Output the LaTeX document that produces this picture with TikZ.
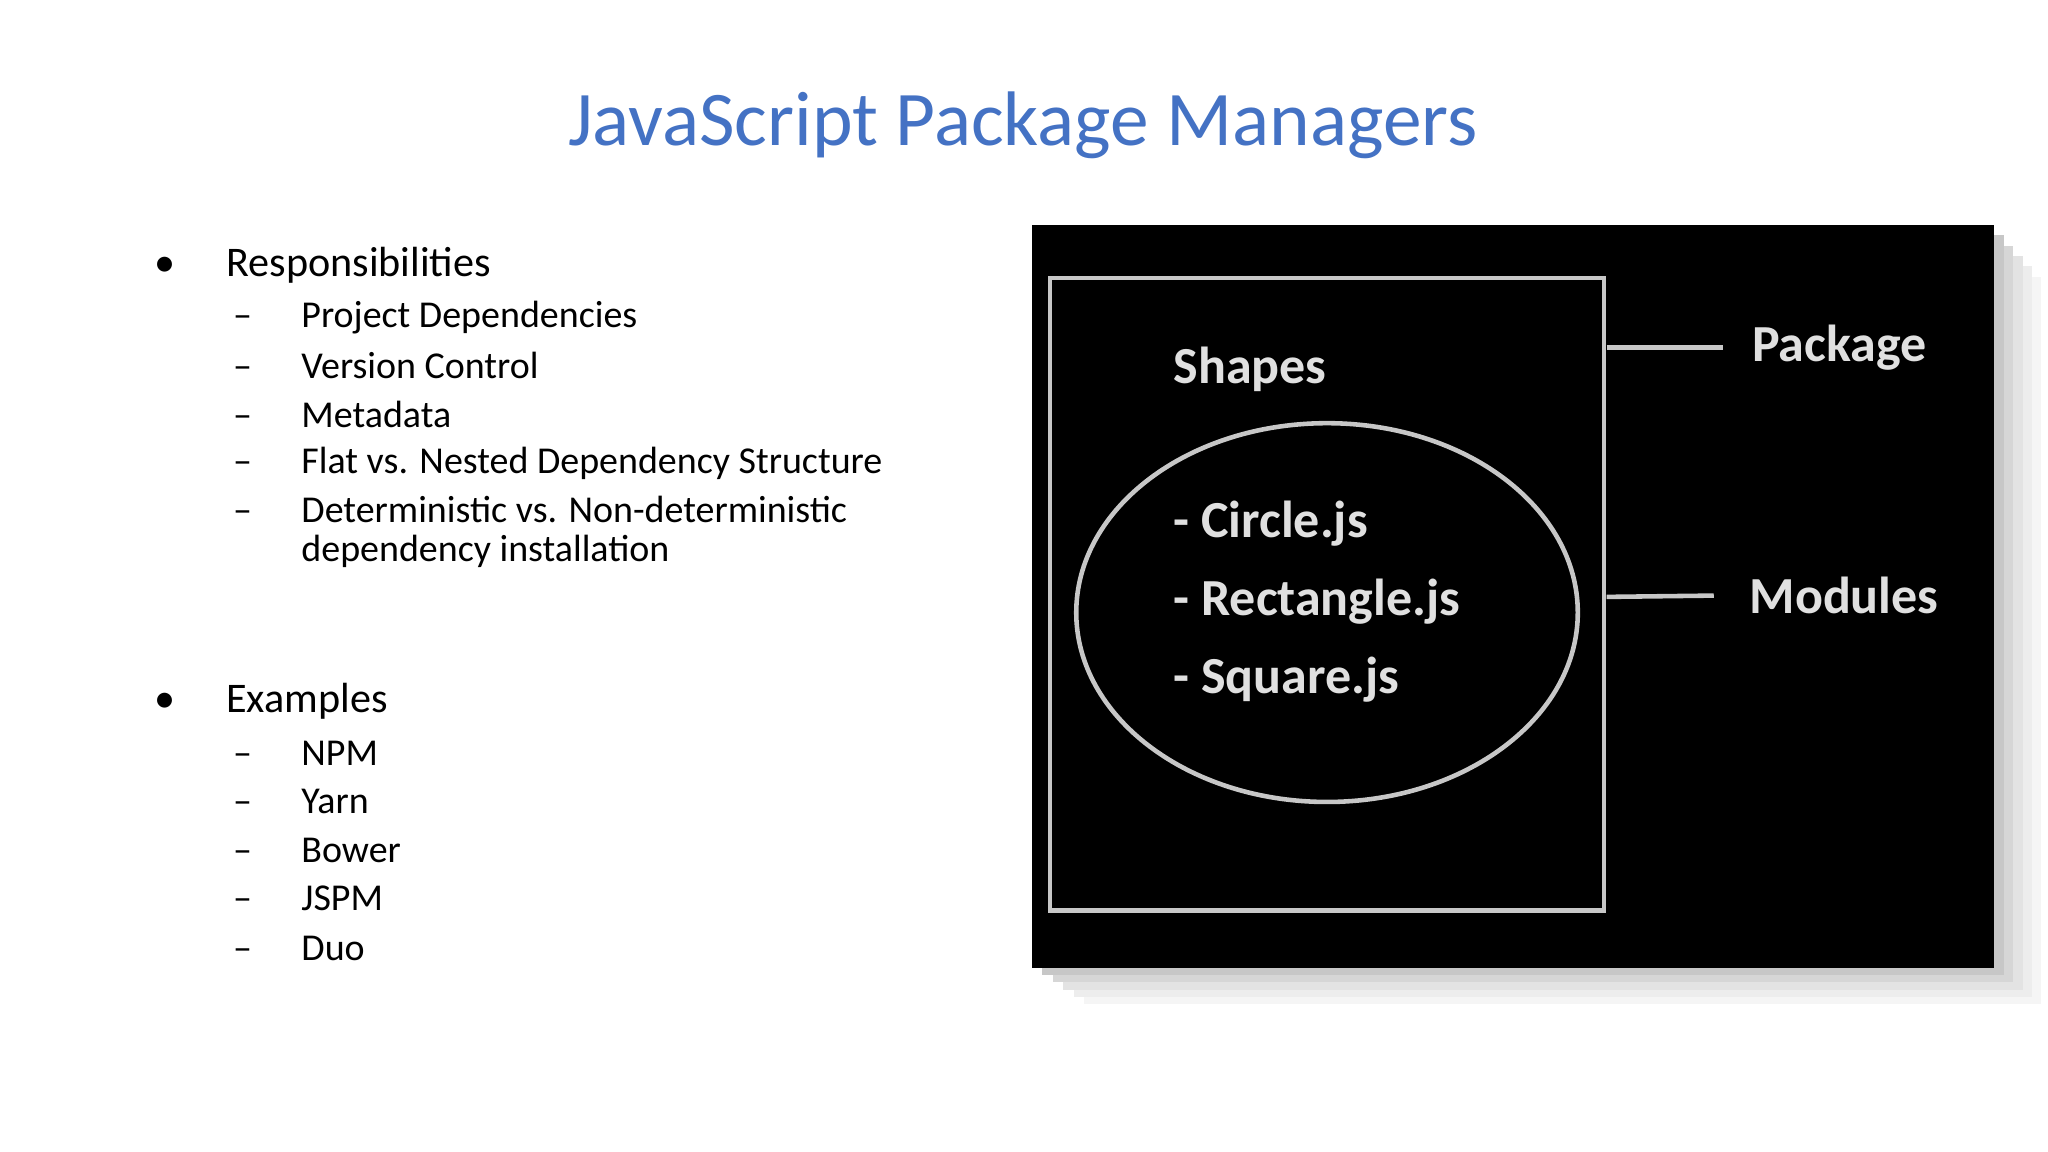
\documentclass[tikz,border=0pt]{standalone}
\usepackage{fontspec}
\setmainfont{Carlito}
\begin{document}
\begin{tikzpicture}[x=0.01306cm,y=-0.01306cm,
  bul/.style={anchor=west,font=\fontsize{12}{14}\selectfont,inner sep=0},
  sub/.style={anchor=west,font=\fontsize{10.8}{11.2}\selectfont,inner sep=0,align=left},
  dlab/.style={anchor=west,font=\bfseries\fontsize{14.8}{16}\selectfont,text=black!12,inner sep=0},
  gline/.style={draw=black!22,line width=1.3pt}]
\useasboundingbox[fill=white] (0,0) rectangle (1568,882);
\node[font=\fontsize{22}{26}\selectfont,text={rgb,255:red,68;green,114;blue,196}] (title) at (783,96) {JavaScript Package Managers};
% left list
\node[bul] (b1) at (118,203) {\textbullet\hspace{1.2em}Responsibilities};
\foreach \t/\y [count=\i] in {Project Dependencies/243,Version Control/280,Metadata/317,Flat vs. Nested Dependency Structure/355}
  \node[sub] (s\i) at (178,\y) {–\hspace{1.3em}\t};
\node[sub,anchor=north west] (s5) at (178,379) {–\hspace{1.3em}Deterministic vs. Non-deterministic\\\hphantom{–\hspace{1.3em}}dependency installation};
\node[bul] (b2) at (118,537) {\textbullet\hspace{1.2em}Examples};
\foreach \t/\y [count=\i] in {NPM/577,Yarn/614,Bower/651,JSPM/688,Duo/726}
  \node[sub] (e\i) at (178,\y) {–\hspace{1.3em}\t};
% shadow
\foreach \d/\c in {40/4,32/7,24/11,16/16,8/22}
  \fill[black!\c] (790+\d,172+\d) rectangle (1527+\d*0.9,741+\d*0.7);
\fill[black] (790,172) rectangle (1527,741);
\draw[gline] (804,213) rectangle (1228,697);
\coordinate (ec) at (1016,469);
\draw[gline] (ec) ellipse [x radius=192,y radius=145];
\node[dlab] (shapes) at (898,283) {Shapes};
\node[dlab] (c) at (898,401) {- Circle.js};
\node[dlab] (r) at (898,461) {- Rectangle.js};
\node[dlab] (sq) at (898,520) {- Square.js};
\node[dlab] (pk) at (1341,266) {Package};
\node[dlab] (md) at (1339,456) {Modules};
\coordinate (p0) at (1230,266);
\coordinate (m0) at (1230,457);
\draw[gline] (p0) -- ([xshift=-8]pk.west);
\draw[gline] (m0) -- ([xshift=-10]md.west);
\end{tikzpicture}
\end{document}
